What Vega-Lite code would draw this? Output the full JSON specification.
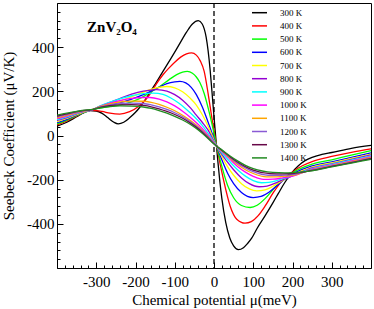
{
  "$schema": "https://vega.github.io/schema/vega-lite/v6.json",
  "width": 314,
  "height": 265,
  "autosize": {"type": "none"},
  "padding": {"left": 57, "top": 3, "right": 3, "bottom": 41},
  "background": "white",
  "config": {
    "view": {"stroke": "black", "strokeWidth": 1},
    "font": "Liberation Serif",
    "axis": {"domainColor": "black", "domainWidth": 1, "tickColor": "black", "tickWidth": 1, "labelColor": "black", "titleColor": "black", "grid": false, "labelFont": "Liberation Serif", "titleFont": "Liberation Serif", "labelFontSize": 15, "titleFontSize": 15, "titleFontWeight": "normal", "labelOverlap": false}
  },
  "datasets": {
    "curves": [
      {"T":"300 K","mu":-400,"S":42},{"T":"300 K","mu":-375,"S":60},{"T":"300 K","mu":-350,"S":85},{"T":"300 K","mu":-330,"S":105},{"T":"300 K","mu":-315,"S":113},{"T":"300 K","mu":-300,"S":111},{"T":"300 K","mu":-285,"S":100},{"T":"300 K","mu":-270,"S":80},{"T":"300 K","mu":-255,"S":60},{"T":"300 K","mu":-244,"S":53},{"T":"300 K","mu":-230,"S":60},{"T":"300 K","mu":-215,"S":80},{"T":"300 K","mu":-200,"S":105},{"T":"300 K","mu":-189,"S":128},{"T":"300 K","mu":-175,"S":162},{"T":"300 K","mu":-163,"S":195},{"T":"300 K","mu":-150,"S":232},{"T":"300 K","mu":-130,"S":290},{"T":"300 K","mu":-110,"S":348},{"T":"300 K","mu":-90,"S":408},{"T":"300 K","mu":-70,"S":468},{"T":"300 K","mu":-55,"S":505},{"T":"300 K","mu":-40,"S":520},{"T":"300 K","mu":-30,"S":505},{"T":"300 K","mu":-20,"S":445},{"T":"300 K","mu":-10,"S":300},{"T":"300 K","mu":-5,"S":195},{"T":"300 K","mu":0,"S":85},{"T":"300 K","mu":5,"S":-20},{"T":"300 K","mu":10,"S":-120},{"T":"300 K","mu":15,"S":-210},{"T":"300 K","mu":20,"S":-285},{"T":"300 K","mu":30,"S":-395},{"T":"300 K","mu":40,"S":-463},{"T":"300 K","mu":50,"S":-500},{"T":"300 K","mu":62,"S":-517},{"T":"300 K","mu":75,"S":-508},{"T":"300 K","mu":85,"S":-490},{"T":"300 K","mu":96,"S":-465},{"T":"300 K","mu":110,"S":-420},{"T":"300 K","mu":130,"S":-364},{"T":"300 K","mu":150,"S":-305},{"T":"300 K","mu":164,"S":-262},{"T":"300 K","mu":180,"S":-214},{"T":"300 K","mu":198,"S":-169},{"T":"300 K","mu":215,"S":-137},{"T":"300 K","mu":232,"S":-114},{"T":"300 K","mu":250,"S":-99},{"T":"300 K","mu":275,"S":-86},{"T":"300 K","mu":300,"S":-77},{"T":"300 K","mu":350,"S":-58},{"T":"300 K","mu":400,"S":-45},
      {"T":"400 K","mu":-400,"S":48},{"T":"400 K","mu":-375,"S":66},{"T":"400 K","mu":-350,"S":88},{"T":"400 K","mu":-330,"S":106},{"T":"400 K","mu":-315,"S":114},{"T":"400 K","mu":-300,"S":113},{"T":"400 K","mu":-285,"S":109},{"T":"400 K","mu":-265,"S":101},{"T":"400 K","mu":-240,"S":97},{"T":"400 K","mu":-215,"S":108},{"T":"400 K","mu":-190,"S":135},{"T":"400 K","mu":-175,"S":160},{"T":"400 K","mu":-160,"S":195},{"T":"400 K","mu":-145,"S":238},{"T":"400 K","mu":-130,"S":275},{"T":"400 K","mu":-115,"S":305},{"T":"400 K","mu":-100,"S":332},{"T":"400 K","mu":-85,"S":355},{"T":"400 K","mu":-70,"S":370},{"T":"400 K","mu":-57,"S":374},{"T":"400 K","mu":-45,"S":364},{"T":"400 K","mu":-35,"S":338},{"T":"400 K","mu":-25,"S":290},{"T":"400 K","mu":-15,"S":190},{"T":"400 K","mu":-5,"S":75},{"T":"400 K","mu":7,"S":-49},{"T":"400 K","mu":24,"S":-199},{"T":"400 K","mu":41,"S":-319},{"T":"400 K","mu":58,"S":-379},{"T":"400 K","mu":79,"S":-397},{"T":"400 K","mu":95,"S":-390},{"T":"400 K","mu":112,"S":-364},{"T":"400 K","mu":130,"S":-320},{"T":"400 K","mu":151,"S":-259},{"T":"400 K","mu":170,"S":-212},{"T":"400 K","mu":190,"S":-178},{"T":"400 K","mu":200,"S":-165},{"T":"400 K","mu":225,"S":-137},{"T":"400 K","mu":250,"S":-118},{"T":"400 K","mu":300,"S":-95},{"T":"400 K","mu":350,"S":-76},{"T":"400 K","mu":400,"S":-60},
      {"T":"500 K","mu":-400,"S":53},{"T":"500 K","mu":-375,"S":70},{"T":"500 K","mu":-350,"S":90},{"T":"500 K","mu":-330,"S":105},{"T":"500 K","mu":-315,"S":114},{"T":"500 K","mu":-290,"S":124},{"T":"500 K","mu":-265,"S":132},{"T":"500 K","mu":-239,"S":139},{"T":"500 K","mu":-210,"S":152},{"T":"500 K","mu":-180,"S":176},{"T":"500 K","mu":-160,"S":198},{"T":"500 K","mu":-138,"S":222},{"T":"500 K","mu":-115,"S":252},{"T":"500 K","mu":-95,"S":276},{"T":"500 K","mu":-80,"S":287},{"T":"500 K","mu":-68,"S":290},{"T":"500 K","mu":-55,"S":282},{"T":"500 K","mu":-45,"S":265},{"T":"500 K","mu":-36,"S":240},{"T":"500 K","mu":-25,"S":190},{"T":"500 K","mu":-15,"S":125},{"T":"500 K","mu":-5,"S":50},{"T":"500 K","mu":7,"S":-49},{"T":"500 K","mu":20,"S":-140},{"T":"500 K","mu":35,"S":-228},{"T":"500 K","mu":50,"S":-282},{"T":"500 K","mu":70,"S":-317},{"T":"500 K","mu":92,"S":-326},{"T":"500 K","mu":110,"S":-316},{"T":"500 K","mu":130,"S":-286},{"T":"500 K","mu":150,"S":-246},{"T":"500 K","mu":170,"S":-208},{"T":"500 K","mu":200,"S":-169},{"T":"500 K","mu":250,"S":-130},{"T":"500 K","mu":300,"S":-110},{"T":"500 K","mu":350,"S":-89},{"T":"500 K","mu":400,"S":-69},
      {"T":"600 K","mu":-400,"S":58},{"T":"600 K","mu":-375,"S":73},{"T":"600 K","mu":-350,"S":92},{"T":"600 K","mu":-330,"S":106},{"T":"600 K","mu":-315,"S":114},{"T":"600 K","mu":-290,"S":127},{"T":"600 K","mu":-265,"S":138},{"T":"600 K","mu":-240,"S":148},{"T":"600 K","mu":-210,"S":165},{"T":"600 K","mu":-180,"S":185},{"T":"600 K","mu":-146,"S":213},{"T":"600 K","mu":-120,"S":235},{"T":"600 K","mu":-100,"S":243},{"T":"600 K","mu":-87,"S":245},{"T":"600 K","mu":-72,"S":238},{"T":"600 K","mu":-58,"S":218},{"T":"600 K","mu":-45,"S":185},{"T":"600 K","mu":-30,"S":130},{"T":"600 K","mu":-15,"S":60},{"T":"600 K","mu":0,"S":-14},{"T":"600 K","mu":7,"S":-49},{"T":"600 K","mu":20,"S":-110},{"T":"600 K","mu":35,"S":-172},{"T":"600 K","mu":50,"S":-218},{"T":"600 K","mu":70,"S":-258},{"T":"600 K","mu":100,"S":-281},{"T":"600 K","mu":120,"S":-276},{"T":"600 K","mu":140,"S":-257},{"T":"600 K","mu":160,"S":-228},{"T":"600 K","mu":180,"S":-198},{"T":"600 K","mu":200,"S":-175},{"T":"600 K","mu":250,"S":-138},{"T":"600 K","mu":300,"S":-119},{"T":"600 K","mu":350,"S":-99},{"T":"600 K","mu":400,"S":-79},
      {"T":"700 K","mu":-400,"S":63},{"T":"700 K","mu":-375,"S":77},{"T":"700 K","mu":-350,"S":95},{"T":"700 K","mu":-330,"S":107},{"T":"700 K","mu":-315,"S":114},{"T":"700 K","mu":-290,"S":130},{"T":"700 K","mu":-265,"S":143},{"T":"700 K","mu":-240,"S":156},{"T":"700 K","mu":-210,"S":175},{"T":"700 K","mu":-180,"S":196},{"T":"700 K","mu":-150,"S":214},{"T":"700 K","mu":-121,"S":222},{"T":"700 K","mu":-100,"S":216},{"T":"700 K","mu":-80,"S":198},{"T":"700 K","mu":-60,"S":168},{"T":"700 K","mu":-45,"S":138},{"T":"700 K","mu":-30,"S":95},{"T":"700 K","mu":-15,"S":42},{"T":"700 K","mu":0,"S":-21},{"T":"700 K","mu":7,"S":-49},{"T":"700 K","mu":20,"S":-95},{"T":"700 K","mu":35,"S":-142},{"T":"700 K","mu":50,"S":-180},{"T":"700 K","mu":70,"S":-218},{"T":"700 K","mu":90,"S":-242},{"T":"700 K","mu":109,"S":-251},{"T":"700 K","mu":130,"S":-246},{"T":"700 K","mu":150,"S":-230},{"T":"700 K","mu":175,"S":-203},{"T":"700 K","mu":200,"S":-179},{"T":"700 K","mu":250,"S":-143},{"T":"700 K","mu":300,"S":-124},{"T":"700 K","mu":350,"S":-104},{"T":"700 K","mu":400,"S":-84},
      {"T":"800 K","mu":-400,"S":68},{"T":"800 K","mu":-375,"S":81},{"T":"800 K","mu":-350,"S":98},{"T":"800 K","mu":-330,"S":109},{"T":"800 K","mu":-315,"S":114},{"T":"800 K","mu":-290,"S":133},{"T":"800 K","mu":-265,"S":150},{"T":"800 K","mu":-240,"S":167},{"T":"800 K","mu":-210,"S":187},{"T":"800 K","mu":-180,"S":201},{"T":"800 K","mu":-146,"S":208},{"T":"800 K","mu":-120,"S":201},{"T":"800 K","mu":-100,"S":185},{"T":"800 K","mu":-80,"S":160},{"T":"800 K","mu":-60,"S":125},{"T":"800 K","mu":-45,"S":92},{"T":"800 K","mu":-30,"S":60},{"T":"800 K","mu":-15,"S":24},{"T":"800 K","mu":0,"S":-27},{"T":"800 K","mu":7,"S":-49},{"T":"800 K","mu":20,"S":-85},{"T":"800 K","mu":35,"S":-122},{"T":"800 K","mu":50,"S":-155},{"T":"800 K","mu":70,"S":-192},{"T":"800 K","mu":90,"S":-218},{"T":"800 K","mu":115,"S":-232},{"T":"800 K","mu":135,"S":-229},{"T":"800 K","mu":160,"S":-213},{"T":"800 K","mu":180,"S":-197},{"T":"800 K","mu":200,"S":-183},{"T":"800 K","mu":250,"S":-147},{"T":"800 K","mu":300,"S":-128},{"T":"800 K","mu":350,"S":-108},{"T":"800 K","mu":400,"S":-88},
      {"T":"900 K","mu":-400,"S":72},{"T":"900 K","mu":-375,"S":84},{"T":"900 K","mu":-350,"S":100},{"T":"900 K","mu":-330,"S":110},{"T":"900 K","mu":-315,"S":114},{"T":"900 K","mu":-290,"S":134},{"T":"900 K","mu":-265,"S":151},{"T":"900 K","mu":-240,"S":166},{"T":"900 K","mu":-210,"S":180},{"T":"900 K","mu":-180,"S":190},{"T":"900 K","mu":-155,"S":192},{"T":"900 K","mu":-130,"S":186},{"T":"900 K","mu":-110,"S":170},{"T":"900 K","mu":-90,"S":147},{"T":"900 K","mu":-70,"S":118},{"T":"900 K","mu":-50,"S":85},{"T":"900 K","mu":-30,"S":46},{"T":"900 K","mu":-10,"S":-3},{"T":"900 K","mu":7,"S":-49},{"T":"900 K","mu":20,"S":-78},{"T":"900 K","mu":40,"S":-118},{"T":"900 K","mu":60,"S":-155},{"T":"900 K","mu":80,"S":-184},{"T":"900 K","mu":100,"S":-204},{"T":"900 K","mu":121,"S":-214},{"T":"900 K","mu":140,"S":-212},{"T":"900 K","mu":160,"S":-204},{"T":"900 K","mu":180,"S":-193},{"T":"900 K","mu":200,"S":-182},{"T":"900 K","mu":250,"S":-150},{"T":"900 K","mu":300,"S":-131},{"T":"900 K","mu":350,"S":-112},{"T":"900 K","mu":400,"S":-92},
      {"T":"1000 K","mu":-400,"S":76},{"T":"1000 K","mu":-375,"S":88},{"T":"1000 K","mu":-350,"S":102},{"T":"1000 K","mu":-330,"S":111},{"T":"1000 K","mu":-315,"S":114},{"T":"1000 K","mu":-290,"S":132},{"T":"1000 K","mu":-265,"S":147},{"T":"1000 K","mu":-240,"S":158},{"T":"1000 K","mu":-210,"S":168},{"T":"1000 K","mu":-180,"S":172},{"T":"1000 K","mu":-163,"S":172},{"T":"1000 K","mu":-140,"S":165},{"T":"1000 K","mu":-120,"S":152},{"T":"1000 K","mu":-100,"S":134},{"T":"1000 K","mu":-80,"S":110},{"T":"1000 K","mu":-60,"S":82},{"T":"1000 K","mu":-40,"S":50},{"T":"1000 K","mu":-20,"S":12},{"T":"1000 K","mu":0,"S":-33},{"T":"1000 K","mu":7,"S":-49},{"T":"1000 K","mu":20,"S":-73},{"T":"1000 K","mu":40,"S":-107},{"T":"1000 K","mu":60,"S":-140},{"T":"1000 K","mu":80,"S":-166},{"T":"1000 K","mu":100,"S":-185},{"T":"1000 K","mu":126,"S":-199},{"T":"1000 K","mu":150,"S":-198},{"T":"1000 K","mu":175,"S":-192},{"T":"1000 K","mu":200,"S":-184},{"T":"1000 K","mu":250,"S":-152},{"T":"1000 K","mu":300,"S":-134},{"T":"1000 K","mu":350,"S":-115},{"T":"1000 K","mu":400,"S":-96},
      {"T":"1100 K","mu":-400,"S":80},{"T":"1100 K","mu":-375,"S":91},{"T":"1100 K","mu":-350,"S":104},{"T":"1100 K","mu":-330,"S":112},{"T":"1100 K","mu":-315,"S":115},{"T":"1100 K","mu":-290,"S":131},{"T":"1100 K","mu":-265,"S":143},{"T":"1100 K","mu":-240,"S":151},{"T":"1100 K","mu":-210,"S":156},{"T":"1100 K","mu":-180,"S":155},{"T":"1100 K","mu":-160,"S":150},{"T":"1100 K","mu":-140,"S":141},{"T":"1100 K","mu":-120,"S":128},{"T":"1100 K","mu":-100,"S":112},{"T":"1100 K","mu":-80,"S":92},{"T":"1100 K","mu":-60,"S":68},{"T":"1100 K","mu":-40,"S":40},{"T":"1100 K","mu":-20,"S":6},{"T":"1100 K","mu":0,"S":-35},{"T":"1100 K","mu":7,"S":-49},{"T":"1100 K","mu":20,"S":-70},{"T":"1100 K","mu":40,"S":-102},{"T":"1100 K","mu":60,"S":-131},{"T":"1100 K","mu":80,"S":-155},{"T":"1100 K","mu":100,"S":-172},{"T":"1100 K","mu":134,"S":-187},{"T":"1100 K","mu":160,"S":-187},{"T":"1100 K","mu":185,"S":-184},{"T":"1100 K","mu":200,"S":-181},{"T":"1100 K","mu":250,"S":-154},{"T":"1100 K","mu":300,"S":-136},{"T":"1100 K","mu":350,"S":-118},{"T":"1100 K","mu":400,"S":-99},
      {"T":"1200 K","mu":-400,"S":84},{"T":"1200 K","mu":-375,"S":95},{"T":"1200 K","mu":-350,"S":106},{"T":"1200 K","mu":-330,"S":113},{"T":"1200 K","mu":-315,"S":115},{"T":"1200 K","mu":-290,"S":129},{"T":"1200 K","mu":-265,"S":139},{"T":"1200 K","mu":-240,"S":145},{"T":"1200 K","mu":-210,"S":147},{"T":"1200 K","mu":-180,"S":145},{"T":"1200 K","mu":-160,"S":139},{"T":"1200 K","mu":-140,"S":130},{"T":"1200 K","mu":-120,"S":118},{"T":"1200 K","mu":-100,"S":103},{"T":"1200 K","mu":-80,"S":85},{"T":"1200 K","mu":-60,"S":62},{"T":"1200 K","mu":-40,"S":35},{"T":"1200 K","mu":-20,"S":3},{"T":"1200 K","mu":0,"S":-36},{"T":"1200 K","mu":7,"S":-49},{"T":"1200 K","mu":20,"S":-68},{"T":"1200 K","mu":40,"S":-98},{"T":"1200 K","mu":60,"S":-125},{"T":"1200 K","mu":80,"S":-147},{"T":"1200 K","mu":100,"S":-164},{"T":"1200 K","mu":138,"S":-180},{"T":"1200 K","mu":170,"S":-180},{"T":"1200 K","mu":200,"S":-177},{"T":"1200 K","mu":250,"S":-156},{"T":"1200 K","mu":300,"S":-138},{"T":"1200 K","mu":350,"S":-121},{"T":"1200 K","mu":400,"S":-102},
      {"T":"1300 K","mu":-400,"S":88},{"T":"1300 K","mu":-375,"S":98},{"T":"1300 K","mu":-350,"S":108},{"T":"1300 K","mu":-330,"S":114},{"T":"1300 K","mu":-315,"S":116},{"T":"1300 K","mu":-290,"S":127},{"T":"1300 K","mu":-265,"S":135},{"T":"1300 K","mu":-240,"S":139},{"T":"1300 K","mu":-210,"S":140},{"T":"1300 K","mu":-180,"S":136},{"T":"1300 K","mu":-160,"S":130},{"T":"1300 K","mu":-140,"S":121},{"T":"1300 K","mu":-120,"S":109},{"T":"1300 K","mu":-100,"S":95},{"T":"1300 K","mu":-80,"S":78},{"T":"1300 K","mu":-60,"S":56},{"T":"1300 K","mu":-40,"S":30},{"T":"1300 K","mu":-20,"S":-2},{"T":"1300 K","mu":0,"S":-38},{"T":"1300 K","mu":7,"S":-49},{"T":"1300 K","mu":20,"S":-67},{"T":"1300 K","mu":40,"S":-95},{"T":"1300 K","mu":60,"S":-120},{"T":"1300 K","mu":80,"S":-141},{"T":"1300 K","mu":100,"S":-157},{"T":"1300 K","mu":143,"S":-173},{"T":"1300 K","mu":175,"S":-174},{"T":"1300 K","mu":200,"S":-172},{"T":"1300 K","mu":250,"S":-158},{"T":"1300 K","mu":300,"S":-140},{"T":"1300 K","mu":350,"S":-123},{"T":"1300 K","mu":400,"S":-105},
      {"T":"1400 K","mu":-400,"S":92},{"T":"1400 K","mu":-375,"S":101},{"T":"1400 K","mu":-350,"S":109},{"T":"1400 K","mu":-330,"S":115},{"T":"1400 K","mu":-315,"S":117},{"T":"1400 K","mu":-290,"S":125},{"T":"1400 K","mu":-265,"S":131},{"T":"1400 K","mu":-240,"S":134},{"T":"1400 K","mu":-210,"S":133},{"T":"1400 K","mu":-180,"S":129},{"T":"1400 K","mu":-160,"S":123},{"T":"1400 K","mu":-140,"S":113},{"T":"1400 K","mu":-120,"S":101},{"T":"1400 K","mu":-100,"S":87},{"T":"1400 K","mu":-80,"S":70},{"T":"1400 K","mu":-60,"S":50},{"T":"1400 K","mu":-40,"S":25},{"T":"1400 K","mu":-20,"S":-6},{"T":"1400 K","mu":0,"S":-39},{"T":"1400 K","mu":7,"S":-49},{"T":"1400 K","mu":20,"S":-65},{"T":"1400 K","mu":40,"S":-92},{"T":"1400 K","mu":60,"S":-115},{"T":"1400 K","mu":80,"S":-135},{"T":"1400 K","mu":100,"S":-150},{"T":"1400 K","mu":150,"S":-167},{"T":"1400 K","mu":180,"S":-169},{"T":"1400 K","mu":200,"S":-168},{"T":"1400 K","mu":250,"S":-160},{"T":"1400 K","mu":300,"S":-142},{"T":"1400 K","mu":350,"S":-125},{"T":"1400 K","mu":400,"S":-108}
    ]
  },
  "resolve": {"axis": {"x": "independent", "y": "independent"}},
  "layer": [
    {
      "data": {"values": [{}]},
      "mark": {"type": "rule", "strokeDash": [5, 3], "strokeWidth": 1.3, "color": "black"},
      "encoding": {"x": {"datum": 0, "type": "quantitative", "scale": {"domain": [-400, 400], "nice": false, "zero": false},
        "axis": {"orient": "bottom", "title": null, "values": [-380,-360,-340,-320,-280,-260,-240,-220,-180,-160,-140,-120,-80,-60,-40,-20,20,40,60,80,120,140,160,180,220,240,260,280,320,340,360,380], "labels": false, "domain": false, "tickSize": -3}}}
    },
    {
      "data": {"values": [{}]},
      "mark": {"type": "text", "font": "Liberation Serif", "fontSize": 15, "fontWeight": "bold", "align": "center", "baseline": "alphabetic", "color": "black"},
      "encoding": {"x": {"datum": -260, "type": "quantitative", "axis": null},
        "y": {"datum": 467, "type": "quantitative", "scale": {"domain": [-600, 600], "nice": false, "zero": false},
          "axis": {"orient": "left", "title": null, "values": [-560,-520,-480,-440,-360,-320,-280,-240,-160,-120,-80,-40,40,80,120,160,240,280,320,360,440,480,520,560], "labels": false, "domain": false, "tickSize": -3}},
        "text": {"value": "ZnV₂O₄"}}
    },
    {
      "data": {"name": "curves"},
      "mark": {"type": "line", "interpolate": "monotone", "strokeWidth": 1.3, "clip": true},
      "encoding": {
        "x": {"field": "mu", "type": "quantitative",
          "axis": {"orient": "bottom", "title": "Chemical potential μ(meV)", "values": [-300, -200, -100, 0, 100, 200, 300], "labelExpr": "'' + datum.value", "tickSize": -6, "labelPadding": 12, "titlePadding": 3.5}},
        "y": {"field": "S", "type": "quantitative",
          "axis": {"orient": "left", "title": "Seebeck Coefficient (μV/K)", "values": [-400, -200, 0, 200, 400], "labelExpr": "'' + datum.value", "tickSize": -6, "labelPadding": 9, "titlePadding": 10}},
        "color": {"field": "T", "type": "nominal",
          "scale": {"domain": ["300 K","400 K","500 K","600 K","700 K","800 K","900 K","1000 K","1100 K","1200 K","1300 K","1400 K"],
                    "range": ["#000000","#ff0000","#00ff00","#0000ff","#ffff00","#9400d3","#00ffff","#ff00ff","#ffa500","#8a5ad4","#670748","#228b22"]},
          "legend": {"orient": "none", "legendX": 196.5, "legendY": 3.7, "title": null, "padding": 0,
                     "symbolType": "M-1.5,0H1.5", "symbolSize": 100, "symbolStrokeWidth": 1.5,
                     "labelFont": "Liberation Serif", "labelFontSize": 9, "labelColor": "black",
                     "labelOffset": 14.5, "rowPadding": 2.2}}
      }
    }
  ]
}
